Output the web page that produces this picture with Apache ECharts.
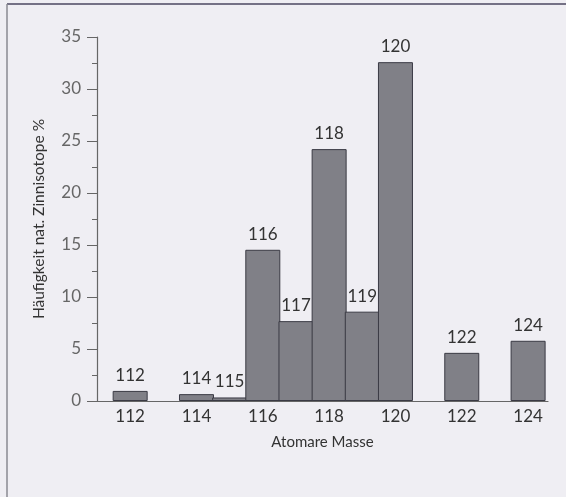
<!DOCTYPE html>
<html>
<head>
<meta charset="utf-8">
<script src="https://cdn.jsdelivr.net/npm/echarts@6/dist/echarts.min.js"></script>
<style>
html,body{margin:0;padding:0;background:#efeef3;}
#chart{width:566px;height:497px;}
</style>
</head>
<body>
<div id="chart"></div>
<script>
const masses = [112, 114, 115, 116, 117, 118, 119, 120, 122, 124];
const abundances = [0.97, 0.66, 0.34, 14.54, 7.68, 24.22, 8.59, 32.58, 4.63, 5.79];
const xTicks = [112, 114, 116, 118, 120, 122, 124];
const yTicks = [0, 5, 10, 15, 20, 25, 30, 35];

const FONT = 'Lato, "Open Sans", sans-serif';
const chart = echarts.init(document.getElementById('chart'), null, {renderer: 'canvas'});
chart.setOption({
  backgroundColor: '#efeef3',
  animation: false,
  grid: {left: 97, right: 18, top: 37, bottom: 96},
  xAxis: {
    type: 'value',
    min: 111,
    max: 124.6,
    interval: 1,
    name: 'Atomare Masse',
    nameLocation: 'middle',
    nameGap: 34,
    nameTextStyle: {fontFamily: FONT, fontSize: 15, color: '#333'},
    axisLine: {show: true, lineStyle: {color: '#666', width: 1.2}},
    axisTick: {show: false},
    splitLine: {show: false},
    axisLabel: {
      showMinLabel: false, showMaxLabel: false,
      margin: 7,
      fontFamily: FONT, fontSize: 17, color: '#333',
      formatter: v => xTicks.includes(v) ? String(v) : ''
    }
  },
  yAxis: {
    type: 'value',
    min: 0,
    max: 35,
    interval: 5,
    name: 'Häufigkeit nat. Zinnisotope %',
    nameLocation: 'middle',
    nameGap: 50,
    nameTextStyle: {fontFamily: FONT, fontSize: 15.5, color: '#333'},
    axisLine: {show: true, lineStyle: {color: '#666', width: 1.2}},
    axisTick: {show: true, inside: false, length: 10, lineStyle: {color: '#666'}},
    minorTick: {show: true, splitNumber: 2, length: 5, lineStyle: {color: '#666'}},
    splitLine: {show: false},
    axisLabel: {
      margin: 16,
      fontFamily: FONT, fontSize: 17, color: '#666',
      formatter: v => yTicks.includes(v) ? String(v) : ''
    }
  },
  graphic: [
    {type: 'line', shape: {x1: 7, y1: 4, x2: 566, y2: 4}, style: {stroke: '#4b4760', lineWidth: 1.5}, silent: true},
    {type: 'line', shape: {x1: 7, y1: 4, x2: 7, y2: 497}, style: {stroke: '#8a8a92', lineWidth: 1.5}, silent: true}
  ],
  series: [{
    type: 'bar',
    barWidth: 35,
    data: masses.map((m, i) => [m, abundances[i]]),
    itemStyle: {color: '#808087', borderColor: '#3a3a44', borderWidth: 1},
    label: {
      show: true,
      position: 'top',
      distance: 7,
      fontFamily: FONT, fontSize: 17, color: '#333',
      formatter: p => String(p.value[0])
    }
  }]
});
</script>
</body>
</html>
